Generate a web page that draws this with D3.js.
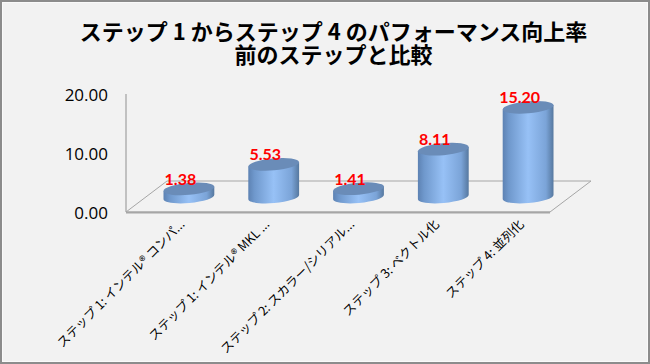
<!DOCTYPE html>
<html><head><meta charset="utf-8">
<script src="https://cdn.jsdelivr.net/npm/d3@7"></script>
<style>html,body{margin:0;padding:0;background:#fff}svg{display:block}</style>
</head><body><div id="c"></div>
<script>
const categories = ["ステップ 1: インテル® コンパ...","ステップ 1: インテル® MKL ...","ステップ 2: スカラー/シリアル...","ステップ 3: ベクトル化","ステップ 4: 並列化"];
const values = [1.38,5.53,1.41,8.11,15.20];
const yTicks = [0,10,20];
const titleLines = ["ステップ 1 からステップ 4 のパフォーマンス向上率","前のステップと比較"];
const W=650,H=364;
const svg=d3.select("#c").append("svg").attr("width",W).attr("height",H);
const defs=svg.append("defs");
const grad=defs.append("linearGradient").attr("id","side");
[[0,"#5d82b3"],[.12,"#6f98cc"],[.5,"#97c1f6"],[.85,"#7ba4d8"],[1,"#56789f"]].forEach(d=>grad.append("stop").attr("offset",d[0]).attr("stop-color",d[1]));
svg.append("rect").attr("x",1).attr("y",1).attr("width",W-2).attr("height",H-2).attr("fill","#f2f2f2").attr("stroke","#8c8c8c").attr("stroke-width",2);
svg.append("rect").attr("x",2.5).attr("y",2.5).attr("width",W-5).attr("height",H-5).attr("fill","none").attr("stroke","#fafafa").attr("stroke-width",1);
const JP='"Noto Sans CJK JP","Noto Sans",sans-serif';
svg.append("text").attr("text-anchor","middle")
 .attr("font-family",JP).attr("font-weight",700).attr("font-size",22).attr("fill","#000")
 .selectAll("tspan").data(titleLines).join("tspan")
 .attr("x",333.5).attr("y",(d,i)=>40+i*23).text(d=>d);
const y=d3.scaleLinear().domain([0,20]).range([212,94]);
const x=d3.scaleBand().domain(categories).range([126,550]);
const depthX=41,depthY=31;
const floorPts=[[126,212],[550,212],[550+depthX,212-depthY],[126+depthX,212-depthY]];
svg.append("polygon").attr("points",floorPts.join(" ")).attr("fill","none").attr("stroke","#a6a6a6").attr("stroke-width",1);
svg.append("line").attr("x1",126).attr("x2",550).attr("y1",212.5).attr("y2",212.5).attr("stroke","#a6a6a6").attr("stroke-width",2);
svg.append("line").attr("x1",126).attr("x2",126).attr("y1",94).attr("y2",212).attr("stroke","#a6a6a6").attr("stroke-width",1.3);
const axis=d3.axisLeft(y).tickValues(yTicks).tickFormat(d3.format(".2f")).tickSize(0).tickPadding(18);
const ag=svg.append("g").attr("transform","translate(126,1)").call(axis);
ag.select(".domain").remove();
ag.selectAll("text").attr("font-family",'"Open Sans",sans-serif').attr("font-size",17).attr("fill","#000");
const rx=25.5,ry=6,rot=-5,off=15,shift=depthX/2,k=0.5523;
const cosR=Math.cos(rot*Math.PI/180),sinR=Math.sin(rot*Math.PI/180);
const Mx=rx*cosR,My=rx*sinR,mx=-ry*sinR,my=ry*cosR;
function sidePath(d){
  const t=y(d)-off,b=y(0)-off,p=d3.path();
  p.moveTo(-Mx,t-My);
  p.lineTo(-Mx,b-My);
  p.bezierCurveTo(-Mx+k*mx,b-My+k*my, mx-k*Mx,b+my-k*My, mx,b+my);
  p.bezierCurveTo(mx+k*Mx,b+my+k*My, Mx+k*mx,b+My+k*my, Mx,b+My);
  p.lineTo(Mx,t+My);
  p.closePath();
  return p.toString();
}
const bars=svg.append("g").selectAll("g").data(values).join("g")
 .attr("transform",(d,i)=>`translate(${x(categories[i])+x.bandwidth()/2+shift},0)`);
bars.append("path").attr("fill","url(#side)").attr("d",sidePath);
bars.append("ellipse").attr("rx",rx).attr("ry",ry)
 .attr("transform",d=>`translate(0,${y(d)-off}) rotate(${rot})`).attr("fill","#6a8cb8");
bars.append("text").attr("text-anchor","middle").attr("x",-8.5).attr("y",d=>y(d)-off-4)
 .attr("font-family","Lato,sans-serif").attr("font-weight",700).attr("font-size",16).attr("fill","#ff0000")
 .text(d=>d.toFixed(2));
svg.append("g").selectAll("text").data(categories).join("text")
 .attr("transform",d=>`translate(${x(d)+x.bandwidth()/2+14},222) rotate(-45)`)
 .attr("text-anchor","end").attr("dy","0.35em")
 .attr("font-family",JP).attr("font-size",12.6).attr("fill","#000").text(d=>d);
</script></body></html>
